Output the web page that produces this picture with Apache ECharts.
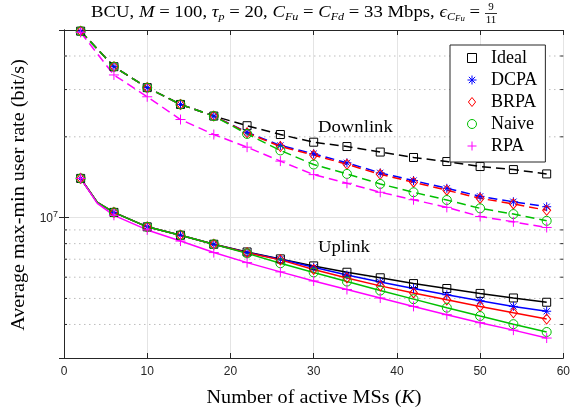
<!DOCTYPE html>
<html>
<head>
<meta charset="utf-8">
<script src="https://cdn.jsdelivr.net/npm/echarts@6/dist/echarts.min.js"></script>
<style>
  html, body { margin: 0; padding: 0; background: #fff; }
  #chart { width: 573px; height: 411px; }
</style>
</head>
<body>
<div id="chart"></div>
<script>
// x positions (number of active MSs)
var xsDown = [2, 6, 10, 14, 18, 22, 26, 30, 34, 38, 42, 46, 50, 54, 58];
var xsUp = [2, 4, 6, 10, 14, 18, 22, 26, 30, 34, 38, 42, 46, 50, 54, 58];

// downlink rates (bit/s)
var dlIdeal = [4.95e7, 3.65e7, 3.05e7, 2.64e7, 2.39e7, 2.20e7, 2.04e7, 1.91e7, 1.84e7, 1.755e7, 1.675e7, 1.618e7, 1.55e7, 1.51e7, 1.455e7];
var dlDCPA = [4.95e7, 3.65e7, 3.05e7, 2.64e7, 2.39e7, 2.08e7, 1.857e7, 1.73e7, 1.60e7, 1.468e7, 1.374e7, 1.286e7, 1.20e7, 1.146e7, 1.098e7];
var dlBRPA = [4.95e7, 3.65e7, 3.05e7, 2.64e7, 2.39e7, 2.07e7, 1.84e7, 1.71e7, 1.58e7, 1.45e7, 1.355e7, 1.265e7, 1.18e7, 1.125e7, 1.065e7];
var dlNaive = [4.95e7, 3.65e7, 3.05e7, 2.64e7, 2.39e7, 2.05e7, 1.78e7, 1.577e7, 1.455e7, 1.335e7, 1.243e7, 1.163e7, 1.083e7, 1.031e7, 9.73e6];
var dlRPA = [4.9e7, 3.40e7, 2.82e7, 2.32e7, 2.04e7, 1.83e7, 1.624e7, 1.446e7, 1.343e7, 1.243e7, 1.166e7, 1.092e7, 1.01e7, 9.645e6, 9.19e6];

// uplink rates (bit/s)
var ulIdeal = [1.40e7, 1.14e7, 1.046e7, 9.24e6, 8.6e6, 7.96e6, 7.45e6, 7.02e6, 6.61e6, 6.26e6, 5.97e6, 5.68e6, 5.445e6, 5.22e6, 5.02e6, 4.84e6];
var ulDCPA = [1.40e7, 1.14e7, 1.046e7, 9.24e6, 8.6e6, 7.96e6, 7.42e6, 7.00e6, 6.53e6, 6.11e6, 5.76e6, 5.445e6, 5.16e6, 4.90e6, 4.67e6, 4.48e6];
var ulBRPA = [1.40e7, 1.14e7, 1.046e7, 9.24e6, 8.6e6, 7.96e6, 7.40e6, 6.96e6, 6.41e6, 5.96e6, 5.57e6, 5.24e6, 4.94e6, 4.67e6, 4.42e6, 4.19e6];
var ulNaive = [1.40e7, 1.14e7, 1.046e7, 9.24e6, 8.6e6, 7.96e6, 7.36e6, 6.76e6, 6.25e6, 5.78e6, 5.35e6, 4.97e6, 4.62e6, 4.30e6, 4.01e6, 3.75e6];
var ulRPA = [1.40e7, 1.13e7, 1.02e7, 9.0e6, 8.18e6, 7.41e6, 6.80e6, 6.28e6, 5.81e6, 5.40e6, 5.02e6, 4.67e6, 4.35e6, 4.06e6, 3.81e6, 3.56e6];

// axis ticks
var xTicks = [0, 10, 20, 30, 40, 50, 60];
var yMinor = [4e6, 5e6, 6e6, 7e6, 8e6, 9e6, 2e7, 3e7, 4e7];

var SQUARE = 'path://M0,0L10,0L10,10L0,10Z';
var DIAMOND = 'path://M4,0L8,5L4,10L0,5Z';
var CIRCLE = 'path://M0,5A5,5,0,1,1,10,5A5,5,0,1,1,0,5Z';
var PLUS = 'path://M5,0L5,10M0,5L10,5';
var STAR = 'path://M5,0L5,10M0,5L10,5M1.5,1.5L8.5,8.5M8.5,1.5L1.5,8.5';

var methods = [
  { name: 'Ideal', color: '#000000', symbol: SQUARE, size: 8, dl: dlIdeal, ul: ulIdeal },
  { name: 'DCPA', color: '#0000ff', symbol: STAR, size: 9, dl: dlDCPA, ul: ulDCPA },
  { name: 'BRPA', color: '#ff0000', symbol: DIAMOND, size: [8, 10], dl: dlBRPA, ul: ulBRPA },
  { name: 'Naive', color: '#00c000', symbol: CIRCLE, size: 9, dl: dlNaive, ul: ulNaive },
  { name: 'RPA', color: '#ff00ff', symbol: PLUS, size: 10, dl: dlRPA, ul: ulRPA }
];

function pairs(xs, ys) {
  return xs.map(function (x, i) { return [x, ys[i]]; });
}

function lineSeries(m, xs, ys, dashed) {
  return {
    type: 'line',
    name: m.name,
    data: pairs(xs, ys),
    clip: false,
    symbol: function (v) { return v[0] === 4 ? 'none' : m.symbol; },
    symbolSize: m.size,
    lineStyle: { color: m.color, width: 1.5, type: dashed ? [9, 5] : 'solid' },
    itemStyle: { color: 'transparent', borderColor: m.color, borderWidth: 1 },
    emphasis: { disabled: true }
  };
}

var series = [];
methods.forEach(function (m) { series.push(lineSeries(m, xsDown, m.dl, true)); });
methods.forEach(function (m) { series.push(lineSeries(m, xsUp, m.ul, false)); });

// dotted minor grid + minor ticks on both sides
series.push({
  type: 'custom',
  name: 'minor',
  silent: true,
  z: 1,
  data: yMinor.map(function (v) { return [0, v]; }),
  renderItem: function (params, api) {
    var v = api.value(1);
    var a = api.coord([0, v]);
    var b = api.coord([60, v]);
    return {
      type: 'group',
      children: [
        { type: 'line', shape: { x1: a[0], y1: a[1], x2: b[0], y2: b[1] },
          style: { stroke: '#bdbdbd', lineWidth: 1, lineDash: [1.5, 3.5] } },
        { type: 'line', shape: { x1: a[0], y1: a[1], x2: a[0] + 3, y2: a[1] },
          style: { stroke: '#262626', lineWidth: 1 } },
        { type: 'line', shape: { x1: b[0], y1: b[1], x2: b[0] - 3, y2: b[1] },
          style: { stroke: '#262626', lineWidth: 1 } }
      ]
    };
  }
});

var axisColor = '#262626';
var serif = '"Liberation Serif", "DejaVu Serif", serif';
var sans = '"Liberation Sans", Arial, sans-serif';

var chart = echarts.init(document.getElementById('chart'), null, { renderer: 'canvas' });

chart.setOption({
  animation: false,
  backgroundColor: '#ffffff',
  grid: { left: 64, right: 9, top: 30, bottom: 53 },
  xAxis: [{
    type: 'value', min: xTicks[0], max: xTicks[xTicks.length - 1], interval: 10,
    axisLine: { lineStyle: { color: axisColor, width: 1 } },
    axisTick: { inside: true, length: 5, lineStyle: { color: axisColor } },
    axisLabel: { color: '#262626', fontSize: 12, fontFamily: sans, margin: 8 },
    splitLine: { show: true, lineStyle: { color: '#e4e4e4', width: 1 } }
  }, {
    type: 'value', position: 'top', min: xTicks[0], max: xTicks[xTicks.length - 1], interval: 10,
    axisLine: { lineStyle: { color: axisColor, width: 1 } },
    axisTick: { inside: true, length: 5, lineStyle: { color: axisColor } },
    axisLabel: { show: false },
    splitLine: { show: false }
  }],
  yAxis: [{
    type: 'log', logBase: 10, min: 3e6, max: 5e7,
    axisLine: { show: true, lineStyle: { color: axisColor, width: 1 } },
    axisTick: { show: true, inside: true, length: 5, lineStyle: { color: axisColor } },
    axisLabel: {
      color: '#262626', fontFamily: sans, margin: 6,
      formatter: function (v) {
        return Math.abs(Math.log10(v) - 7) < 1e-6 ? '{a|10}{b|7}' : '';
      },
      rich: {
        a: { fontSize: 12, color: '#262626', fontFamily: sans, lineHeight: 15, verticalAlign: 'bottom' },
        b: { fontSize: 9, color: '#262626', fontFamily: sans, lineHeight: 15, verticalAlign: 'top', padding: [0, 0, 7, 0] }
      }
    },
    splitLine: { show: true, lineStyle: { color: '#e4e4e4', width: 1 } }
  }, {
    type: 'log', logBase: 10, min: 3e6, max: 5e7, position: 'right',
    axisLine: { show: true, lineStyle: { color: axisColor, width: 1 } },
    axisTick: { show: true, inside: true, length: 5, lineStyle: { color: axisColor } },
    axisLabel: { show: false },
    splitLine: { show: false }
  }],
  legend: {
    left: 450, top: 45,
    orient: 'vertical',
    selectedMode: false,
    backgroundColor: '#ffffff',
    borderColor: axisColor,
    borderWidth: 1,
    borderRadius: 0,
    padding: [4, 8, 7, 17],
    itemGap: 4,
    itemWidth: 10,
    itemHeight: 9,
    symbolKeepAspect: true,
    formatter: function (name) { return '\u2002' + name; },
    textStyle: { fontFamily: serif, fontSize: 18, color: '#000' },
    data: methods.map(function (m) {
      return {
        name: m.name,
        icon: m.symbol,
        itemStyle: { color: 'transparent', borderColor: m.color, borderWidth: 1 }
      };
    })
  },
  graphic: [
    {
      type: 'text', x: 480, y: 13, scaleX: 1.1,
      style: {
        text: 'BCU, {i|M} = 100, {i|τ}{s|p} = 20, {i|C}{s|Fu} = {i|C}{s|Fd} = 33 Mbps, {i|ϵ}{s|C}{t|Fu} =',
        font: '17px ' + serif, fill: '#000', align: 'right', verticalAlign: 'middle',
        rich: {
          i: { fontStyle: 'italic', fontSize: 17, fontFamily: serif, lineHeight: 20, verticalAlign: 'middle' },
          s: { fontSize: 11, fontFamily: serif, fontStyle: 'italic', lineHeight: 11, verticalAlign: 'bottom' },
          t: { fontSize: 8, fontFamily: serif, fontStyle: 'italic', lineHeight: 6, verticalAlign: 'bottom' }
        }
      }
    },
    {
      type: 'text', x: 491, y: 7,
      style: { text: '9', font: '11px ' + serif, fill: '#000', align: 'center', verticalAlign: 'middle' }
    },
    {
      type: 'line', shape: { x1: 485, y1: 13.5, x2: 497, y2: 13.5 },
      style: { stroke: '#000', lineWidth: 0.8 }
    },
    {
      type: 'text', x: 491, y: 20,
      style: { text: '11', font: '11px ' + serif, fill: '#000', align: 'center', verticalAlign: 'middle' }
    },
    {
      type: 'text', x: 19, y: 195, rotation: Math.PI / 2, scaleX: 1.12,
      style: { text: 'Average max-min user rate (bit/s)', font: '18px ' + serif, fill: '#000', align: 'center', verticalAlign: 'middle' }
    },
    {
      type: 'text', x: 314, y: 398, scaleX: 1.12,
      style: {
        text: 'Number of active MSs ({i|K})', font: '18px ' + serif, fill: '#000', align: 'center', verticalAlign: 'middle',
        rich: { i: { fontStyle: 'italic', fontSize: 18, fontFamily: serif } }
      }
    },
    {
      type: 'text', x: 318, y: 128, scaleX: 1.1,
      style: { text: 'Downlink', font: '17px ' + serif, fill: '#000', align: 'left', verticalAlign: 'middle' }
    },
    {
      type: 'text', x: 318, y: 248, scaleX: 1.1,
      style: { text: 'Uplink', font: '17px ' + serif, fill: '#000', align: 'left', verticalAlign: 'middle' }
    }
  ],
  series: series
});
</script>
</body>
</html>
